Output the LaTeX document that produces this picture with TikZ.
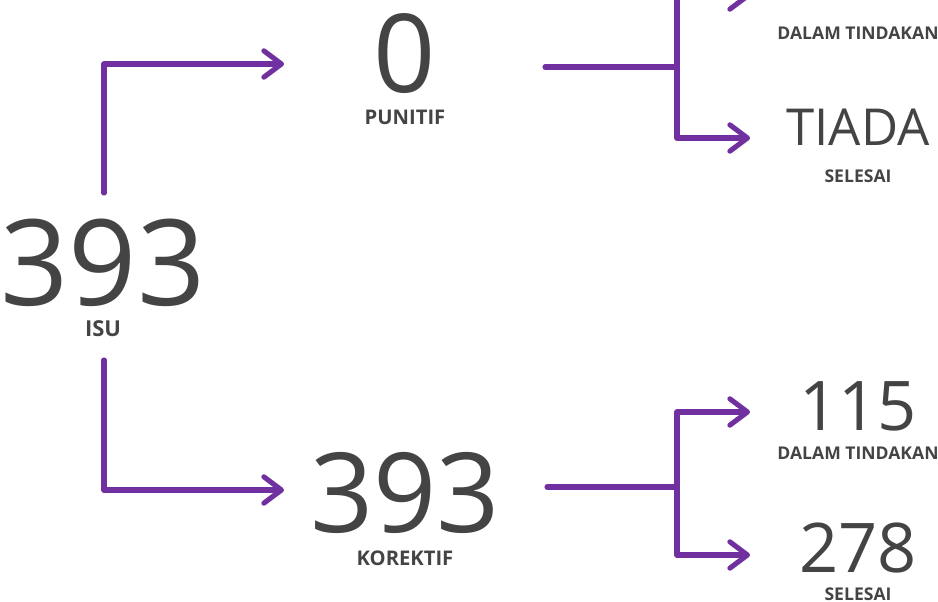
\documentclass[tikz,border=0pt]{standalone}
\usepackage{fontspec}
\setmainfont{Open Sans}
\usetikzlibrary{arrows.meta}
\definecolor{ink}{HTML}{444444}
\definecolor{lilac}{HTML}{7030A0}
\tikzset{
  link/.style={draw=lilac,line width=2.9pt,line cap=round,line join=round,
    -{Straight Barb[length=10pt,width=15pt,line width=2.9pt,round]}},
  bar/.style={draw=lilac,line width=2.9pt,line cap=round,line join=round},
  bignum/.style={text=ink,inner sep=0pt,anchor=base,text depth=0pt,
    font=\fontsize{#1}{#1}\selectfont},
  tag/.style={text=ink,inner sep=0pt,anchor=base,text depth=0pt,text height=0.72em,
    font=\bfseries\fontsize{#1}{#1}\selectfont}
}
\begin{document}
\begin{tikzpicture}[x=0.02cm,y=-0.02cm]
\clip (0,0) rectangle (938,602);

% left: total
\node[bignum=68] (isu) at (103,305) {393};
\node[tag=12.5] (isulbl) at (103,336) {ISU};

% middle
\node[bignum=62] (pun) at (405,92) {0};
\node[tag=11.5] (punlbl) at (405,124) {PUNITIF};
\node[bignum=63] (kor) at (405,532) {393};
\node[tag=11.5] (korlbl) at (405,565) {KOREKTIF};

% right, upper branch
\node[tag=10] (pdt) at (858,39) {DALAM TINDAKAN};
\node[bignum=29] (pse) at (858,145) {TIADA};
\node[tag=10] (pselbl) at (858,182) {SELESAI};

% right, lower branch
\node[bignum=39] (kdt) at (858,430) {115};
\node[tag=10] (kdtlbl) at (858,459) {DALAM TINDAKAN};
\node[bignum=39] (kse) at (858,572) {278};
\node[tag=10] (kselbl) at (858,600) {SELESAI};

% connector ends
\coordinate (isu-up) at (104,193);
\coordinate (isu-dn) at (104,360);
\coordinate (pun-in) at (284,64);
\coordinate (kor-in) at (284,490);
\coordinate (pun-out) at (545,67);
\coordinate (kor-out) at (547,487);
\coordinate (pfork) at (677,67);
\coordinate (kfork) at (677,487);
\coordinate (pdt-in) at (750,-4);
\coordinate (pse-in) at (750,138);
\coordinate (kdt-in) at (750,412);
\coordinate (kse-in) at (750,555);

\draw[link] (isu-up) |- (pun-in);
\draw[link] (isu-dn) |- (kor-in);

\draw[bar] (pun-out) -- (pfork);
\draw[link] (pfork) |- (pdt-in);
\draw[link] (pfork) |- (pse-in);

\draw[bar] (kor-out) -- (kfork);
\draw[link] (kfork) |- (kdt-in);
\draw[link] (kfork) |- (kse-in);
\end{tikzpicture}
\end{document}
